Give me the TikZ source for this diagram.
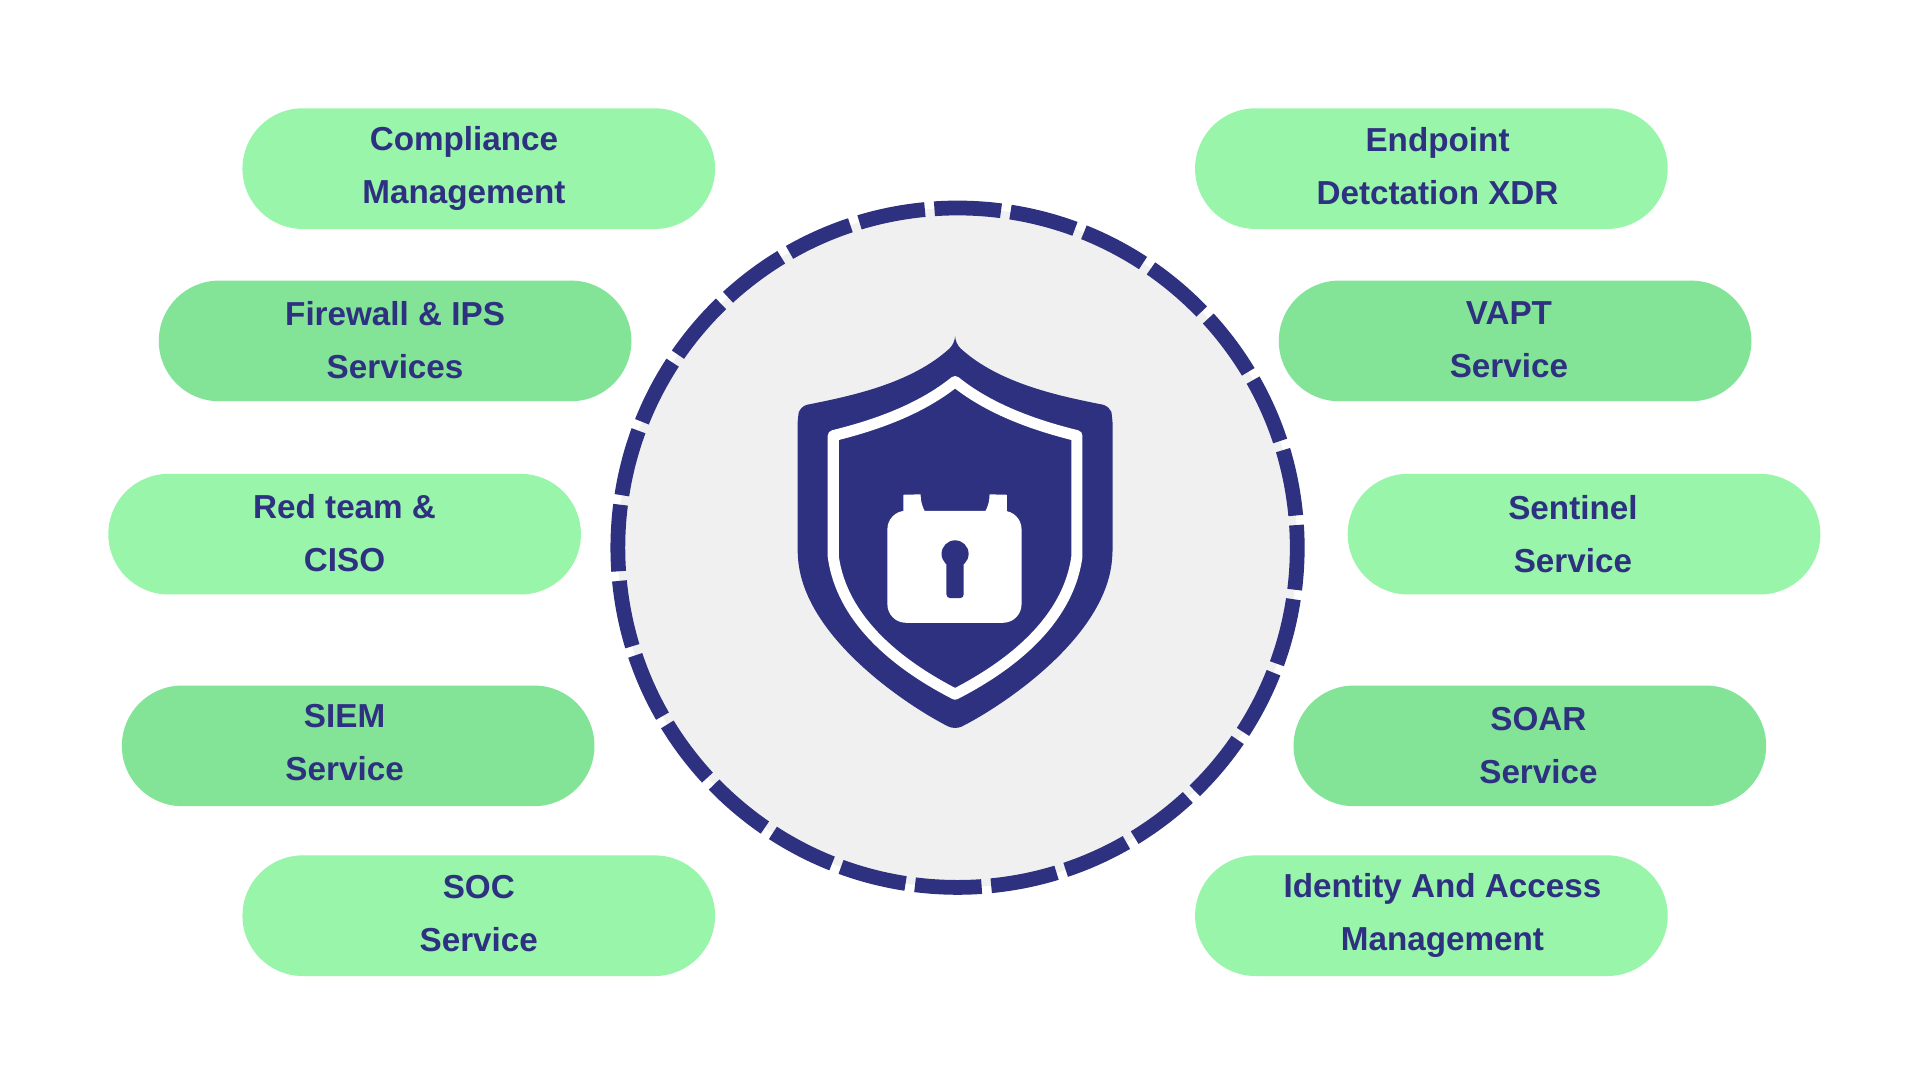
\documentclass[tikz,border=0pt]{standalone}
\usepackage{fontspec}
\setmainfont{Liberation Sans}
\begin{document}
\begin{tikzpicture}[x=1pt,y=-1pt,
  pill/.style={rounded corners=49pt,minimum width=384pt,minimum height=98pt,inner sep=0pt},
  lt/.style={pill,fill=pillA},
  dk/.style={pill,fill=pillB},
  lbl/.style={text=navy,font=\fontsize{27}{43}\selectfont\bfseries,align=center}]
\definecolor{navy}{HTML}{2E3180}
\definecolor{pillA}{HTML}{98F5A9}
\definecolor{pillB}{HTML}{83E396}
\definecolor{disc}{HTML}{F0F0F0}
\useasboundingbox (0,0) rectangle (1560,877.5);
\fill[white] (0,0) rectangle (1560,877.5);
% circle
\node[circle,minimum size=552pt,fill=disc,inner sep=0pt] (c) at (778,445) {};
\draw[navy,line width=12pt,dash pattern=on 54.2pt off 7.8pt,dash phase=20pt] (c.center) circle (276);
% pills
\node[lt] (p1) at (389,137) {}; \node[lbl] (t1) at (377,137) {Compliance\\Management};
\node[dk] (p2) at (321,277) {}; \node[lbl] (t2) at (321,276) {Firewall \& IPS\\Services};
\node[lt] (p3) at (280,434) {}; \node[lbl] (t3) at (280,433) {Red team \&\\CISO};
\node[dk] (p4) at (291,606) {}; \node[lbl] (t4) at (280,603) {SIEM\\Service};
\node[lt] (p5) at (389,744) {}; \node[lbl] (t5) at (389,742) {SOC\\Service};
\node[lt] (q1) at (1163,137) {}; \node[lbl] (u1) at (1168,135) {Endpoint\\Detctation XDR};
\node[dk] (q2) at (1231,277) {}; \node[lbl] (u2) at (1226,276) {VAPT\\Service};
\node[lt] (q3) at (1287,434) {}; \node[lbl] (u3) at (1278,434) {Sentinel\\Service};
\node[dk] (q4) at (1243,606) {}; \node[lbl] (u4) at (1250,606) {SOAR\\Service};
\node[lt] (q5) at (1163,744) {}; \node[lbl] (u5) at (1172,744) {Identity And Access\\Management};
% shield
\fill[navy,rounded corners=6pt] (776,279) .. controls (740,312) and (690,322) .. (650,330) -- (648,340) -- (648,450)
  .. controls (655,520) and (740,575) .. (776,593)
  .. controls (812,575) and (897,520) .. (904,450) -- (904,340) -- (902,330)
  .. controls (862,322) and (812,312) .. (776,279) -- cycle;
\draw[white,line width=9pt,line join=round] (776,310) .. controls (745,335) and (705,347) .. (677,354) -- (677,452)
  .. controls (685,512) and (745,548) .. (776,564)
  .. controls (807,548) and (867,512) .. (875,452) -- (875,354)
  .. controls (847,347) and (807,335) .. (776,310) -- cycle;
% padlock
\draw[white,line width=14pt] (741,418) -- (741,402) arc[start angle=180,end angle=0,radius=35] -- (811,418);
\fill[white,rounded corners=15pt] (721,415) rectangle (830,506);
\fill[navy] (776,450) circle (11);
\fill[navy,rounded corners=3pt] (769,452) rectangle (783,486);
\end{tikzpicture}
\end{document}
